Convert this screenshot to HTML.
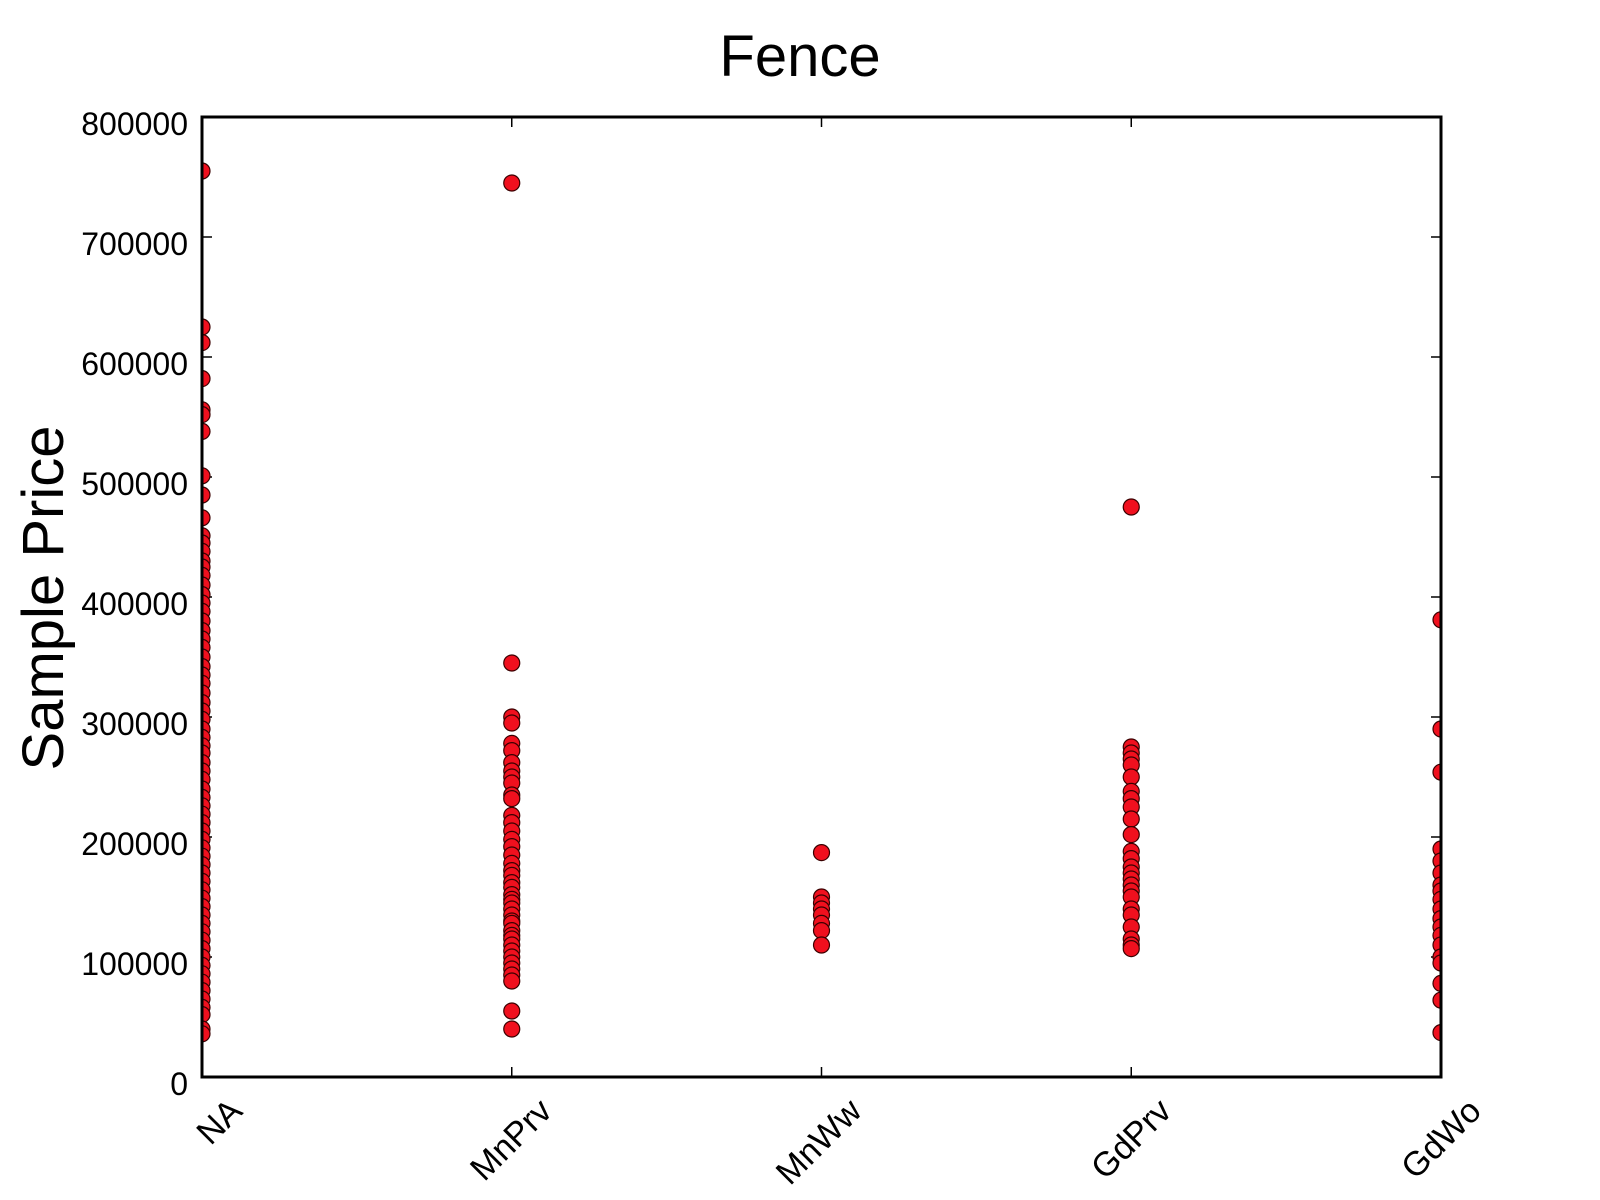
<!DOCTYPE html>
<html><head><meta charset="utf-8"><title>Fence</title>
<style>html,body{margin:0;padding:0;background:#fff}svg{display:block}text{font-family:"Liberation Sans",Arial,sans-serif;fill:#000}</style>
</head><body>
<svg id="chart" width="1600" height="1200" viewBox="0 0 1600 1200" xmlns="http://www.w3.org/2000/svg">
<defs><clipPath id="plotclip"><rect x="202" y="117" width="1239" height="960"/></clipPath></defs>
<text x="800" y="76" text-anchor="middle" font-size="58">Fence</text>
<text transform="translate(63,598) rotate(-90)" text-anchor="middle" font-size="58">Sample Price</text>
<g id="ticks"></g>
<g id="points" clip-path="url(#plotclip)"></g>
<rect x="202" y="117" width="1239" height="960" fill="none" stroke="#000" stroke-width="3"/>
</svg>
<script>
const categories = ["NA","MnPrv","MnWw","GdPrv","GdWo"];
const yTicks = [0,100000,200000,300000,400000,500000,600000,700000,800000];
const naValues = [755000,625000,612000,582000,556000,552000,538000,501000,485000,466000,451000,445000,438000,430000,425000,418000,410000,402000,395000,388000,380000,372000,365000,358000,350000,342000,335000,328000,320000,312000,305000,298000,290000,283000,276000,270000,262000,255000,248000,240000,233000,226000,219000,212000,205000,198000,191000,184000,177000,170000,163000,156000,149000,142000,135000,128000,121000,114000,107000,100000,93000,86000,79000,72000,65000,58000,52000,40000,36000];
const mnPrvValues = [745000,345000,300000,295000,278000,272000,262000,255000,250000,245000,235000,232000,218000,212000,205000,198000,192000,185000,178000,172000,168000,162000,158000,152000,148000,145000,140000,135000,130000,128000,122000,118000,115000,110000,105000,100000,95000,90000,85000,80000,55000,40000];
const mnWwValues = [187000,150000,145000,140000,135000,128000,122000,110000];
const gdPrvValues = [475000,275000,270000,265000,260000,250000,238000,232000,225000,215000,202000,188000,182000,175000,170000,165000,160000,155000,150000,140000,135000,125000,115000,110000,107000];
const gdWoValues = [381000,290000,254000,190000,180000,170000,160000,155000,148000,140000,132000,125000,118000,110000,100000,95000,78000,64000,37000];

const L=202,R=1441,T=117,B=1077,YMAX=800000;
const xPos=i=>L+(R-L)*i/(categories.length-1);
const yPos=v=>B-(B-T)*v/YMAX;
const NS="http://www.w3.org/2000/svg";
const tg=document.getElementById('ticks'), pg=document.getElementById('points');
function mk(tag,attrs,parent){const e=document.createElementNS(NS,tag);for(const k in attrs)e.setAttribute(k,attrs[k]);parent.appendChild(e);return e;}
yTicks.forEach(v=>{
  const y=yPos(v);
  const t1=mk('line',{x1:L,x2:L+10,y1:y,y2:y,stroke:'#000','stroke-width':1.5},tg);
  
  
  const t2=mk('line',{x1:R-10,x2:R,y1:y,y2:y,stroke:'#000','stroke-width':1.5},tg);
  
  
  const lb=mk('text',{x:188,y:y+18,'text-anchor':'end','font-size':32},tg);
  lb.textContent=String(v);
  
  
});
categories.forEach((c,i)=>{
  const x=xPos(i);
  const b=mk('line',{x1:x,x2:x,y1:B-10,y2:B,stroke:'#000','stroke-width':1.5},tg);
  
  
  const t=mk('line',{x1:x,x2:x,y1:T,y2:T+10,stroke:'#000','stroke-width':1.5},tg);
  
  
  const lb=mk('text',{transform:`translate(${x+42},${B+36}) rotate(-45)`,'text-anchor':'end','font-size':34},tg);
  lb.textContent=c;
  
  
});
[naValues,mnPrvValues,mnWwValues,gdPrvValues,gdWoValues].forEach((arr,i)=>{
  arr.forEach(v=>{
    const p=mk('circle',{cx:xPos(i),cy:yPos(v),r:8,fill:'#f0101e',stroke:'#3a0000','stroke-width':1.2},pg);
    
    
  });
});
</script>
</body></html>
